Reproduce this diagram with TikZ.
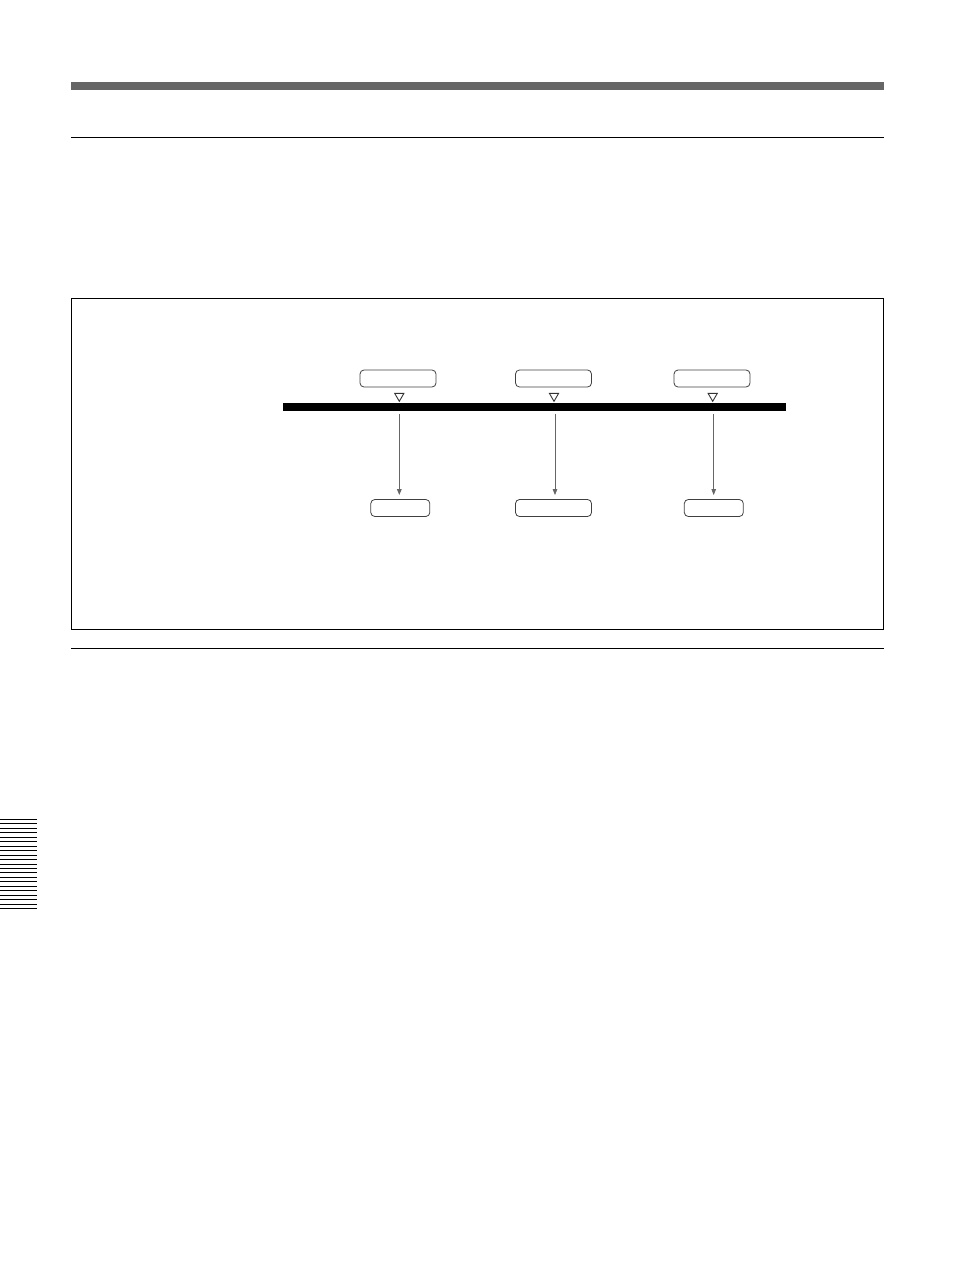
\documentclass[tikz,border=0pt]{standalone}
\usetikzlibrary{arrows.meta,shapes.geometric}
\begin{document}
\begin{tikzpicture}[x=1pt,y=-1pt,
  box/.style={draw=black!75,line width=0.8pt,rounded corners=4pt,inner sep=0pt,minimum height=17pt},
  marker/.style={draw=black!80,line width=0.9pt,fill=white,isosceles triangle,isosceles triangle apex angle=60,shape border rotate=270,inner sep=0pt,minimum height=8pt,minimum width=9pt},
  flow/.style={draw=black!60,shorten >=4pt,-{Triangle[length=6pt,width=4.5pt]}}
]
\useasboundingbox (0,0) rectangle (954,1273);
% header
\fill[black!60] (71,82) rectangle (884,90);
\draw[line width=1pt] (71,137.5) -- (884,137.5);
\draw[line width=1pt] (71,648.5) -- (884,648.5);
% frame
\draw[line width=1pt] (71.5,298.5) rectangle (883.5,629.5);
% bar
\fill[black] (283,402.5) rectangle (786,410.5);
% top boxes
\node[box,minimum width=76pt] (t1) at (398,378.5) {};
\node[box,minimum width=76pt] (t2) at (553.5,378.5) {};
\node[box,minimum width=76pt] (t3) at (712,378.5) {};
% markers
\node[marker] (m1) at (399.3,396) {};
\node[marker] (m2) at (554,396) {};
\node[marker] (m3) at (712.7,396) {};
% bottom boxes
\node[box,minimum width=59pt] (b1) at (400.3,508) {};
\node[box,minimum width=76pt] (b2) at (553.5,508) {};
\node[box,minimum width=59pt] (b3) at (713.8,508) {};
% arrow starts
\coordinate (s1) at (399.3,414);
\coordinate (s2) at (555,414);
\coordinate (s3) at (713.7,414);
\draw[flow,line width=1.3pt] (s1) -- (s1 |- b1.north);
\draw[flow,line width=0.8pt] (s2) -- (s2 |- b2.north);
\draw[flow,line width=0.8pt] (s3) -- (s3 |- b3.north);
% edge stripes
\foreach \i in {0,...,20} {
  \draw[line width=1pt] (0,819.5+\i*4.45) -- (37,819.5+\i*4.45);
}
\end{tikzpicture}
\end{document}
